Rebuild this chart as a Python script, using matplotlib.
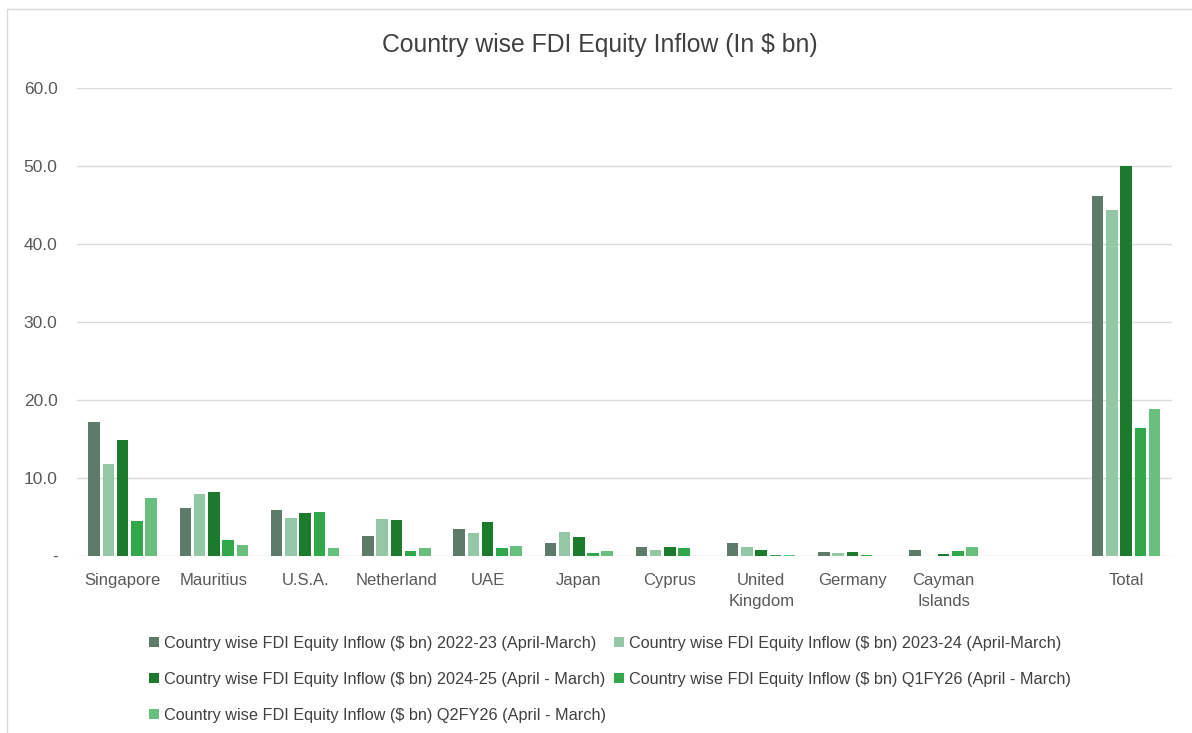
import numpy as np
import matplotlib.pyplot as plt
from matplotlib.patches import Rectangle

plt.rcParams['font.family'] = ['Liberation Sans', 'DejaVu Sans']

# categories along the x axis (blank slot keeps Total apart)
countries = ["Singapore", "Mauritius", "U.S.A.", "Netherland", "UAE", "Japan",
             "Cyprus", "United\nKingdom", "Germany", "Cayman\nIslands", "", "Total"]

# FDI equity inflow, $ bn
fy2223 = [17.2, 6.1, 5.9, 2.5, 3.4, 1.7, 1.2, 1.6, 0.45, 0.8, 0, 46.1]
fy2324 = [11.8, 7.9, 4.9, 4.8, 2.9, 3.1, 0.75, 1.15, 0.4, 0.05, 0, 44.4]
fy2425 = [14.9, 8.2, 5.5, 4.6, 4.3, 2.4, 1.1, 0.75, 0.45, 0.3, 0, 50.0]
q1fy26 = [4.5, 2.0, 5.6, 0.6, 1.0, 0.35, 1.05, 0.1, 0.1, 0.6, 0, 16.4]
q2fy26 = [7.4, 1.4, 1.0, 1.0, 1.3, 0.65, 0.05, 0.1, 0.0, 1.15, 0, 18.8]

series_names = [
    "Country wise FDI Equity Inflow ($ bn) 2022-23 (April-March)",
    "Country wise FDI Equity Inflow ($ bn) 2023-24 (April-March)",
    "Country wise FDI Equity Inflow ($ bn) 2024-25 (April - March)",
    "Country wise FDI Equity Inflow ($ bn) Q1FY26 (April - March)",
    "Country wise FDI Equity Inflow ($ bn) Q2FY26 (April - March)",
]
colors = ["#5e7b69", "#93c7a6", "#1b7a2c", "#33a84b", "#68bf7e"]
series = [fy2223, fy2324, fy2425, q1fy26, q2fy26]

fig = plt.figure(figsize=(11.92, 7.33), dpi=100)
ax = fig.add_axes([0.0646, 0.2415, 0.9184, 0.6385])

x = np.arange(len(countries))
step = 0.156
width = 0.126
bars = []
for i, (vals, c) in enumerate(zip(series, colors)):
    b = ax.bar(x + (i - 2) * step, vals, width, color=c, zorder=3)
    bars.append(b)

ax.set_xlim(-0.5, len(countries) - 0.5)
ax.set_ylim(0, 60)
ax.set_yticks(np.arange(0, 61, 10))
ax.set_yticklabels(["-"] + ["%.1f" % v for v in np.arange(10, 61, 10)])
ax.set_xticks(x)
ax.set_xticklabels(countries, fontsize=12, color="#595959", linespacing=1.55)
ax.tick_params(axis="y", labelsize=12.5, labelcolor="#595959", length=0, pad=14)
ax.tick_params(axis="x", length=0, pad=12)
ax.grid(axis="y", color="#d9d9d9", linewidth=1, zorder=0)
for s in ax.spines.values():
    s.set_visible(False)

fig.text(0.503, 0.938, "Country wise FDI Equity Inflow (In $ bn)", ha="center", va="center",
         fontsize=17.8, color="#404040")

# legend rows are filled left to right, so feed columns in that order
order = [0, 2, 4, 1, 3]
fig.legend([bars[i] for i in order], [series_names[i] for i in order],
           loc="upper left", bbox_to_anchor=(0.113, 1 - 621 / 733),
           bbox_transform=fig.transFigure, ncol=2, frameon=False,
           fontsize=11.7, labelcolor="#404040", handlelength=0.6, handleheight=0.6,
           handletextpad=0.3, columnspacing=0.5, labelspacing=1.3)

# light chart border
fig.patches.append(Rectangle((0.006, -0.02), 1.1, 1.008, transform=fig.transFigure,
                             fill=False, edgecolor="#d9d9d9", linewidth=1))

fig.savefig("out.png", dpi=100)
